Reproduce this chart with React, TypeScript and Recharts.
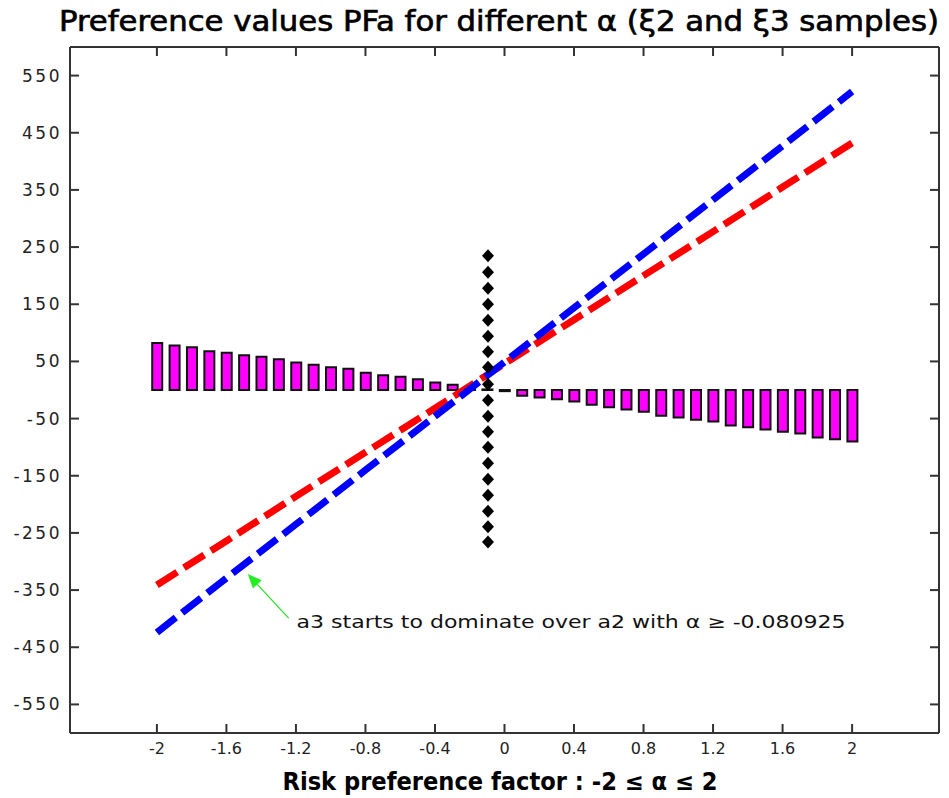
import React from "react";
import {
  ComposedChart,
  XAxis,
  YAxis,
  Bar,
  Line,
  Scatter,
  ReferenceLine,
} from "recharts";

// risk preference factor steps used by the difference bars
const alphaSteps = [
  -2, -1.9, -1.8, -1.7, -1.6, -1.5, -1.4, -1.3, -1.2, -1.1, -1, -0.9, -0.8,
  -0.7, -0.6, -0.5, -0.4, -0.3, -0.2, -0.1, 0, 0.1, 0.2, 0.3, 0.4, 0.5, 0.6,
  0.7, 0.8, 0.9, 1, 1.1, 1.2, 1.3, 1.4, 1.5, 1.6, 1.7, 1.8, 1.9, 2,
];
// PFa(a2) - PFa(a3)
const pfDiff = [
  82, 78, 75, 68, 65, 61, 58, 54, 48, 44, 40, 37, 30, 26, 23, 19, 13, 9, 2, 1,
  -2, -10, -13, -16, -20, -26, -30, -34, -38, -45, -48, -52, -55, -62, -65,
  -69, -73, -76, -83, -86, -90,
];

const lineAlpha = [-2, -1.6, -1.2, -0.8, -0.4, 0, 0.4, 0.8, 1.2, 1.6, 2];
const pfA2 = [-341, -264, -186, -109, -32, 46, 123, 200, 277, 355, 432];
const pfA3 = [-424, -329, -235, -140, -46, 49, 144, 238, 333, 427, 522];

// dotted marker column at the crossing
const crossAlpha = -0.095;
const crossPf = [
  235, 206, 178, 150, 122, 94, 67, 40, 10, -18, -46, -73, -100, -128, -156,
  -184, -212, -239, -266,
];

const xTicks = [-2, -1.6, -1.2, -0.8, -0.4, 0, 0.4, 0.8, 1.2, 1.6, 2];
const yTicks = [-550, -450, -350, -250, -150, -50, 50, 150, 250, 350, 450, 550];

const xDomain = [-2.5, 2.5];
const yDomain = [-600, 600];

const barData = alphaSteps.map((x, i) => ({ x, diff: pfDiff[i] }));
const lineData = lineAlpha.map((x, i) => ({ x, a2: pfA2[i], a3: pfA3[i] }));
const crossData = crossPf.map((pf) => ({ x: crossAlpha, pf }));

const frame = { stroke: "#333", strokeWidth: 2 };
const tickLn = { stroke: "#333", strokeWidth: 2 };
const NoLabel = () => <g />;

const Diamond = (p: any) => (
  <polygon
    points={`${p.cx},${p.cy - 6.5} ${p.cx + 6},${p.cy} ${p.cx},${p.cy + 6.5} ${p.cx - 6},${p.cy}`}
    fill="#000"
  />
);

const Arrow = (p: any) => {
  const { x1, y1, x2, y2 } = p;
  const dx = x2 - x1;
  const dy = y2 - y1;
  const len = Math.sqrt(dx * dx + dy * dy);
  const ux = dx / len;
  const uy = dy / len;
  const bx = x2 - ux * 14;
  const by = y2 - uy * 14;
  return (
    <g>
      <line x1={x1} y1={y1} x2={bx} y2={by} stroke="#22dd22" strokeWidth={1.2} />
      <polygon
        points={`${x2},${y2} ${bx - uy * 6},${by + ux * 6} ${bx + uy * 6},${by - ux * 6}`}
        fill="#22ee22"
      />
      <text
        x={x1 + 8}
        y={y1 + 10}
        fontFamily="DejaVu Sans"
        fontSize={17}
        fill="#111"
        textLength={549}
        lengthAdjust="spacingAndGlyphs"
      >
        a3 starts to dominate over a2 with α ≥ -0.080925
      </text>
    </g>
  );
};

export default function App() {
  return (
    <div style={{ position: "absolute", left: 0, top: 0, width: 949, height: 798, background: "#fff" }}>
      <ComposedChart
        width={949}
        height={798}
        data={barData}
        margin={{ top: 46, right: 9, bottom: 0, left: 8 }}
      >
        <XAxis
          xAxisId="b"
          dataKey="x"
          type="number"
          domain={xDomain}
          ticks={xTicks}
          interval={0}
          allowDataOverflow
          height={65}
          tickLine={tickLn}
          tickSize={-9}
          tickMargin={19}
          axisLine={frame}
          tick={{ fill: "#222", fontSize: 16, fontFamily: "DejaVu Sans" }}
        />
        <XAxis
          xAxisId="b2"
          dataKey="x"
          type="number"
          domain={xDomain}
          allowDataOverflow
          mirror
          tick={false}
          tickLine={false}
          axisLine={false}
        />
        <XAxis
          xAxisId="t"
          dataKey="x"
          orientation="top"
          type="number"
          domain={xDomain}
          ticks={xTicks}
          interval={0}
          allowDataOverflow
          height={1}
          tick={NoLabel}
          tickLine={tickLn}
          tickSize={-9}
          axisLine={frame}
        />
        <YAxis
          yAxisId="l"
          type="number"
          domain={yDomain}
          ticks={yTicks}
          interval={0}
          allowDataOverflow
          width={62}
          tickLine={tickLn}
          tickSize={-9}
          tickMargin={17}
          axisLine={frame}
          tick={{ fill: "#222", fontSize: 17, fontFamily: "DejaVu Sans", letterSpacing: 2.5 }}
        />
        <YAxis
          yAxisId="r"
          orientation="right"
          type="number"
          domain={yDomain}
          ticks={yTicks}
          interval={0}
          allowDataOverflow
          width={1}
          tick={NoLabel}
          tickLine={tickLn}
          tickSize={-9}
          axisLine={frame}
        />

        <Bar
          xAxisId="b2"
          yAxisId="l"
          dataKey="diff"
          fill="#ff00ff"
          stroke="#111"
          strokeWidth={2}
          barSize={10}
          isAnimationActive={false}
        />
        <Line
          xAxisId="b"
          yAxisId="l"
          data={lineData}
          dataKey="a2"
          stroke="#ff0000"
          strokeWidth={7}
          strokeDasharray="24 8"
          dot={false}
          activeDot={false}
          isAnimationActive={false}
        />
        <Line
          xAxisId="b"
          yAxisId="l"
          data={lineData}
          dataKey="a3"
          stroke="#0000ff"
          strokeWidth={7}
          strokeDasharray="24 8"
          dot={false}
          activeDot={false}
          isAnimationActive={false}
        />
        <Scatter
          xAxisId="b"
          yAxisId="l"
          data={crossData}
          dataKey="pf"
          shape={Diamond}
          isAnimationActive={false}
        />
        <ReferenceLine
          xAxisId="b"
          yAxisId="l"
          segment={[
            { x: -1.242, y: -399 },
            { x: -1.477, y: -322 },
          ]}
          shape={Arrow}
          ifOverflow="visible"
        />
      </ComposedChart>
      <svg
        width={949}
        height={798}
        style={{ position: "absolute", left: 0, top: 0, pointerEvents: "none" }}
      >
        <text
          x={499}
          y={31}
          textAnchor="middle"
          fontFamily="DejaVu Sans Condensed, DejaVu Sans"
          fontSize={28}
          fill="#000"
          stroke="#000"
          strokeWidth={0.6}
          textLength={880}
          lengthAdjust="spacingAndGlyphs"
        >
          Preference values PFa for different α (ξ2 and ξ3 samples)
        </text>
        <text
          x={500}
          y={790}
          textAnchor="middle"
          fontFamily="DejaVu Sans Condensed, DejaVu Sans"
          fontWeight="bold"
          fontSize={24}
          fill="#000"
          textLength={435}
          lengthAdjust="spacingAndGlyphs"
        >
          Risk preference factor : -2 ≤ α ≤ 2
        </text>
      </svg>
    </div>
  );
}
